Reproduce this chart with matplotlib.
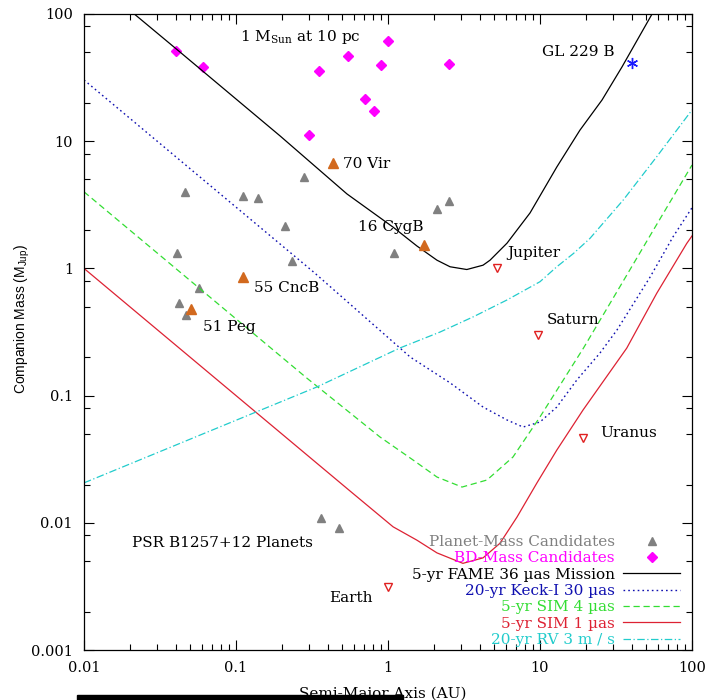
import numpy as np
import matplotlib.pyplot as plt
from matplotlib.patches import Rectangle
from matplotlib.ticker import LogLocator, NullFormatter

plt.rcParams['font.family'] = ['DejaVu Serif']
plt.rcParams['mathtext.fontset'] = 'custom'
plt.rcParams['mathtext.rm'] = 'DejaVu Serif'
plt.rcParams['mathtext.sf'] = 'Liberation Sans'

# detection limits: semi-major axis (AU) vs companion mass (M_Jup)
fame_a = [0.021, 0.043, 0.195, 0.537, 1.08, 1.55, 2.1, 2.56, 3.3, 4.22, 4.69, 6.07, 8.6, 12.9, 18.3, 25.6, 34.6, 54.6]
fame_m = [102, 50, 11.0, 3.85, 2.11, 1.50, 1.16, 1.03, 0.98, 1.06, 1.16, 1.58, 2.73, 6.27, 12.2, 21.1, 38.3, 100]

keck_a = [0.01, 0.326, 1.40, 2.56, 4.22, 6.07, 7.73, 10.0, 12.9, 17.5, 24.8, 32.1, 53, 75, 100]
keck_m = [30.3, 0.93, 0.201, 0.126, 0.0813, 0.0643, 0.0566, 0.062, 0.0813, 0.133, 0.216, 0.328, 0.855, 1.77, 3.0]

sim4_a = [0.01, 0.293, 0.885, 1.46, 2.10, 3.07, 4.48, 6.64, 10.0, 19.3, 33.6, 53, 100]
sim4_m = [4.0, 0.137, 0.0473, 0.0312, 0.0229, 0.0191, 0.0217, 0.0329, 0.068, 0.236, 0.72, 1.81, 6.5]

sim1_a = [0.01, 0.195, 0.562, 1.08, 1.55, 2.10, 3.11, 4.22, 5.45, 7.06, 9.55, 12.9, 19.2, 37.2, 58.6, 92.3, 100]
sim1_m = [1.0, 0.0513, 0.0178, 0.0093, 0.0073, 0.0058, 0.0048, 0.0053, 0.0069, 0.0111, 0.0206, 0.0373, 0.0771, 0.236, 0.637, 1.57, 1.8]

rv_a = [0.01, 0.341, 1.2, 2.2, 3.65, 6.07, 10, 12.9, 16.6, 21.3, 35.3, 58.6, 100]
rv_m = [0.0206, 0.117, 0.237, 0.316, 0.417, 0.565, 0.786, 1.03, 1.31, 1.72, 3.45, 7.55, 17.6]

# companions
planet_a = [0.0461, 0.111, 0.140, 0.280, 0.210, 0.0409, 0.233, 0.0571, 0.0422, 0.0469, 1.09, 2.10, 2.52, 0.362, 0.476]
planet_m = [3.99, 3.71, 3.57, 5.24, 2.15, 1.32, 1.14, 0.70, 0.535, 0.430, 1.32, 2.93, 3.39, 0.0109, 0.0091]

bd_a = [0.0403, 0.0607, 0.302, 0.351, 0.546, 0.707, 0.810, 0.900, 1.0, 2.52]
bd_m = [51.2, 38.3, 11.2, 35.6, 46.8, 21.5, 17.3, 39.7, 61.4, 40.5]

named_a = [0.435, 1.73, 0.111, 0.0506]   # 70 Vir, 16 CygB, 55 CncB, 51 Peg
named_m = [6.75, 1.53, 0.855, 0.48]

solar_a = [1.0, 5.21, 9.7, 19.2]          # Earth, Jupiter, Saturn, Uranus
solar_m = [0.00313, 1.0, 0.30, 0.0465]

gl229_a = [40.3]
gl229_m = [41.2]

fig = plt.figure(figsize=(7.07, 7.0), dpi=100)
ax = fig.add_axes([84 / 707, 50 / 700, 608 / 707, 636 / 700])
ax.set_xscale('log')
ax.set_yscale('log')

ax.plot(planet_a, planet_m, '^', color='#808080', ms=6, ls='none', label='Planet-Mass Candidates')
ax.plot(bd_a, bd_m, 'D', color='#ff00ff', ms=5, ls='none', label='BD-Mass Candidates')
ax.plot(fame_a, fame_m, '-', color='black', lw=0.9, label='5-yr FAME 36 µas Mission')
ax.plot(keck_a, keck_m, color='#1010b0', lw=1.0, ls=(0, (1.2, 2.2)), label='20-yr Keck-I 30 µas')
ax.plot(sim4_a, sim4_m, color='#33dd33', lw=0.9, ls=(0, (5, 3)), label='5-yr SIM 4 µas')
ax.plot(sim1_a, sim1_m, '-', color='#dd2233', lw=0.9, label='5-yr SIM 1 µas')
ax.plot(rv_a, rv_m, color='#22cccc', lw=0.9, ls=(0, (6, 2, 1, 2)), label='20-yr RV 3 m / s')

ax.plot(named_a, named_m, '^', color='#d2691e', ms=6.5, ls='none')
ax.plot(solar_a, solar_m, 'v', mfc='white', mec='#e02020', mew=1.0, ms=6, ls='none')
ax.plot(gl229_a, gl229_m, marker=(6, 2, 0), color='#1a1aff', ms=8, mew=1.0, ls='none')

txt = dict(fontsize=11, va='center', ha='left')
ax.text(0.106, 65.9, r'1 M$_{\rm Sun}$ at 10 pc', **txt)
ax.text(10.3, 50.2, 'GL 229 B', **txt)
ax.text(0.506, 6.62, '70 Vir', **txt)
ax.text(0.635, 2.11, '16 CygB', **txt)
ax.text(6.07, 1.32, 'Jupiter', **txt)
ax.text(11.1, 0.393, 'Saturn', **txt)
ax.text(24.8, 0.0508, 'Uranus', **txt)
ax.text(0.409, 0.00256, 'Earth', **txt)
ax.text(0.131, 0.70, '55 CncB', **txt)
ax.text(0.0607, 0.346, '51 Peg', **txt)
ax.text(0.0207, 0.00693, 'PSR B1257+12 Planets', **txt)

ax.set_xlim(0.01, 100)
ax.set_ylim(0.001, 100)
ax.set_xticks([0.01, 0.1, 1, 10, 100], ['0.01', '0.1', '1', '10', '100'])
ax.set_yticks([0.001, 0.01, 0.1, 1, 10, 100], ['0.001', '0.01', '0.1', '1', '10', '100'])
ax.xaxis.set_minor_locator(LogLocator(base=10, subs=range(2, 10)))
ax.yaxis.set_minor_locator(LogLocator(base=10, subs=(2, 5, 8)))
ax.xaxis.set_minor_formatter(NullFormatter())
ax.yaxis.set_minor_formatter(NullFormatter())
ax.tick_params(which='both', direction='in', top=True, right=True, width=0.8, labelsize=10.5)
ax.tick_params(which='major', length=7, pad=8)
ax.tick_params(which='minor', length=4)
for s in ax.spines.values():
    s.set_linewidth(0.9)

ax.set_xlabel('Semi-Major Axis (AU)', fontsize=11, va='top')
ax.xaxis.set_label_coords(0.492, -0.057)
ax.set_ylabel(r'Companion Mass ($\mathsf{M}_{\mathsf{Jup}}$)', fontsize=10, family='Liberation Sans')
ax.yaxis.set_label_coords(-0.086, 0.52)

leg = ax.legend(loc='lower right', bbox_to_anchor=(0.985, 0.0), borderaxespad=0, borderpad=0.2,
                frameon=False, markerfirst=False, fontsize=11, labelspacing=0.15,
                handlelength=3.7, handletextpad=0.55,
                labelcolor=['#808080', '#ff00ff', 'black', '#1010b0', '#33dd33', '#dd2233', '#22cccc'])

fig.patches.append(Rectangle((77 / 707, 0), 326 / 707, 5 / 700, transform=fig.transFigure,
                             color='black', zorder=10))

fig.savefig('out.png', dpi=100)
